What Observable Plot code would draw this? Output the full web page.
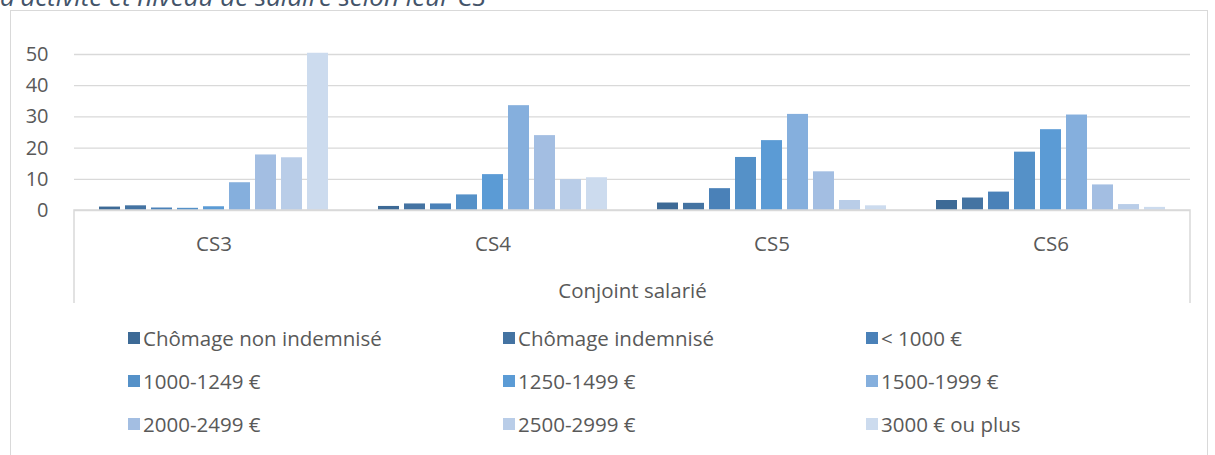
<!DOCTYPE html>
<html>
<head>
<meta charset="utf-8">
<script src="https://cdn.jsdelivr.net/npm/d3@7"></script>
<script src="https://cdn.jsdelivr.net/npm/@observablehq/plot@0.6"></script>
<style>
  html, body { margin: 0; padding: 0; background: #fff; }
  body { width: 1215px; height: 455px; overflow: hidden; position: relative; font-family: "Open Sans", Lato, sans-serif; }
  #title { position: absolute; left: 0; top: -17px; font-size: 26px; line-height: 26px; font-style: italic; color: #44546A; white-space: nowrap; }
  #frame { position: absolute; left: 10px; top: 10px; width: 1196px; height: 480px; border: 1px solid #D9D9D9; border-bottom: none; }
  #chart { position: absolute; left: 0; top: 0; }
  #legend { position: absolute; left: 0; top: 0; width: 1215px; height: 455px; pointer-events: none; }
  .item { position: absolute; display: flex; align-items: center; font-size: 20.5px; color: #595959; white-space: nowrap; transform: translateY(-50%); }
  .sw { width: 12px; height: 12px; margin-right: 3px; display: inline-block; }
</style>
</head>
<body>
<div id="title">d'activité et niveau de salaire selon leur CS</div>
<div id="frame"></div>
<div id="chart"></div>
<div id="legend"></div>
<script>
const categories = ["CS3", "CS4", "CS5", "CS6"];
const series = ["Chômage non indemnisé", "Chômage indemnisé", "< 1000 €", "1000-1249 €", "1250-1499 €", "1500-1999 €", "2000-2499 €", "2500-2999 €", "3000 € ou plus"];
const colors = ["#3D6A96", "#4473A2", "#4A81B8", "#5591C8", "#5B9BD5", "#85AFDD", "#A3BEE2", "#B9CDE8", "#CCDBEE"];
const cs3 = [1.1, 1.5, 0.8, 0.7, 1.2, 8.9, 17.8, 16.9, 50.4];
const cs4 = [1.3, 2.1, 2.1, 5.0, 11.5, 33.6, 24.0, 9.9, 10.5];
const cs5 = [2.4, 2.3, 7.0, 17.0, 22.4, 30.8, 12.4, 3.2, 1.5];
const cs6 = [3.2, 4.0, 5.9, 18.7, 25.9, 30.6, 8.2, 1.9, 1.0];
const yTicks = [0, 10, 20, 30, 40, 50];
const axisTitle = "Conjoint salarié";

const values = [cs3, cs4, cs5, cs6];
const data = categories.flatMap((c, ci) => series.map((s, si) => ({cat: c, series: s, value: values[ci][si]})));

const W = 1215, H = 310;
const chart = Plot.plot({
  width: W, height: H,
  marginLeft: 73, marginRight: 25, marginTop: 54, marginBottom: 100,
  style: {fontFamily: "'Open Sans', Lato, sans-serif", fontSize: "20px", color: "#595959", background: "transparent", overflow: "visible"},
  fx: {domain: categories, padding: 0, label: null},
  x: {domain: series, paddingInner: 0.21, paddingOuter: 0.835, axis: null},
  y: {domain: [0, 50], label: null},
  color: {domain: series, range: colors},
  marks: [
    Plot.gridY(yTicks, {stroke: "#D9D9D9", strokeOpacity: 1, strokeWidth: 1.3}),
    Plot.axisY(yTicks, {tickSize: 0, tickPadding: 26, label: null, fill: "#595959", fontSize: 20}),
    Plot.axisFx({anchor: "bottom", tickSize: 0, tickPadding: 26, label: axisTitle, labelAnchor: "center", labelOffset: 87, fill: "#595959", fontSize: 20.5}),
    Plot.barY(data, {fx: "cat", x: "series", y: "value", fill: "series"})
  ]
});
document.getElementById("chart").appendChild(chart);

// category axis box derived from the scales
const fx = chart.scale("fx"), y = chart.scale("y");
const x0 = fx.apply(categories[0]);
const x1 = fx.apply(categories[categories.length - 1]) + fx.bandwidth;
const y0 = y.apply(0);
const yb = y0 + 93;
d3.select(chart).append("path")
  .attr("d", `M${x0},${yb}V${y0}H${x1}V${yb}`)
  .attr("fill", "none").attr("stroke", "#D9D9D9").attr("stroke-width", 1.5);

// legend
const colX = [128, 503, 866];
const rowY = [338, 381, 424];
const legend = document.getElementById("legend");
series.forEach((s, i) => {
  const el = document.createElement("div");
  el.className = "item";
  el.style.left = colX[i % 3] + "px";
  el.style.top = rowY[Math.floor(i / 3)] + "px";
  const sw = document.createElement("span");
  sw.className = "sw";
  sw.style.background = colors[i];
  el.appendChild(sw);
  el.appendChild(document.createTextNode(s));
  legend.appendChild(el);
});
</script>
</body>
</html>
